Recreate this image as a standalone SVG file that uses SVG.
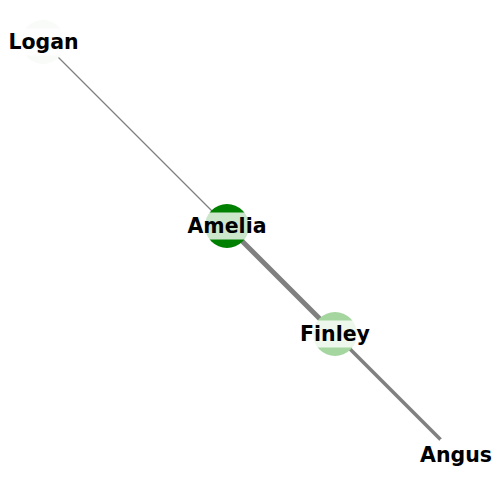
<svg xmlns="http://www.w3.org/2000/svg" width="500" height="500" viewBox="0 0 500 500">
<style>
.edge{stroke:#808080;stroke-linecap:round;fill:none}
.lbl{font-family:"DejaVu Sans",sans-serif;font-weight:bold;font-size:20.5px;text-anchor:middle;fill:#000}
.box{fill:#fff;fill-opacity:0.8}
</style>
<rect width="500" height="500" fill="#fff"/>
<g id="edges">
<line class="edge" x1="43" y1="42" x2="227" y2="226" stroke-width="1.3"/>
<line class="edge" x1="227" y1="226" x2="335" y2="334" stroke-width="5"/>
<line class="edge" x1="335" y1="334" x2="456" y2="455" stroke-width="3.5"/>
</g>
<g id="Logan">
<circle cx="43" cy="42" r="22" fill="#f8fbf8"/>
<rect class="box" x="2" y="28.5" width="82" height="27"/>
<text class="lbl" x="43.5" y="49">Logan</text>
</g>
<g id="Amelia">
<circle cx="227" cy="226" r="22" fill="#008000"/>
<rect class="box" x="183" y="212.5" width="88" height="27"/>
<text class="lbl" x="227" y="233">Amelia</text>
</g>
<g id="Finley">
<circle cx="335" cy="334" r="22" fill="#a5d6a0"/>
<rect class="box" x="293" y="320.5" width="84" height="27"/>
<text class="lbl" x="335" y="341">Finley</text>
</g>
<g id="Angus">
<circle cx="456" cy="455" r="22" fill="#fff"/>
<rect class="box" x="413" y="441.5" width="86" height="27"/>
<text class="lbl" x="456" y="462">Angus</text>
</g>
</svg>
